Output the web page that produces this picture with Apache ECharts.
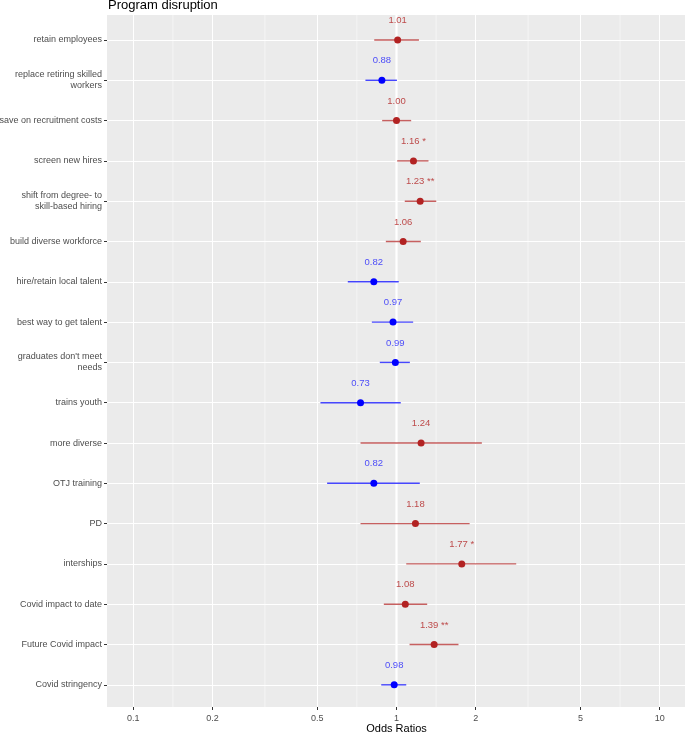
<!DOCTYPE html>
<html>
<head>
<meta charset="utf-8">
<script src="https://cdn.jsdelivr.net/npm/echarts@6/dist/echarts.min.js"></script>
<style>html,body{margin:0;padding:0;background:#fff;}#c{width:685px;height:734px;}</style>
</head>
<body>
<div id="c"></div>
<script>
const categories = ["retain employees","replace retiring skilled\nworkers","save on recruitment costs","screen new hires","shift from degree- to\nskill-based hiring","build diverse workforce","hire/retain local talent","best way to get talent","graduates don't meet\nneeds","trains youth","more diverse","OTJ training","PD","interships","Covid impact to date","Future Covid impact","Covid stringency"];
const oddsRatio = [1.01,0.88,1.00,1.16,1.23,1.06,0.82,0.97,0.99,0.73,1.24,0.82,1.18,1.77,1.08,1.39,0.98];
const ciLow = [0.823,0.762,0.882,1.006,1.075,0.911,0.653,0.806,0.864,0.514,0.730,0.545,0.730,1.089,0.895,1.121,0.875];
const ciHigh = [1.217,1.004,1.137,1.323,1.416,1.237,1.020,1.157,1.124,1.038,2.110,1.226,1.896,2.850,1.308,1.720,1.089];
const stars = ["","","","*","**","","","","","","","","","*","","**",""];
const xTicks = [0.1,0.2,0.5,1,2,5,10];
const xMinor = [0.1414,0.3162,0.7071,1.4142,3.1623,7.0711];
const refLine = 1;

const RED = '#B22222', BLUE = '#0000FF';
const FONT = '"Liberation Sans", Arial, sans-serif';
const colorOf = v => v >= 1 ? RED : BLUE;
const labelColorOf = v => v >= 1 ? 'rgba(178,34,34,0.8)' : 'rgba(0,0,255,0.7)';
const idx = categories.map((_, i) => i);

const chart = echarts.init(document.getElementById('c'), null, {renderer: 'canvas'});
chart.setOption({
  animation: false,
  textStyle: {fontFamily: FONT},
  title: {
    text: 'Program disruption', left: 108, top: -1, padding: 0,
    textStyle: {fontFamily: FONT, fontSize: 13, fontWeight: 'normal', color: '#000'}
  },
  grid: {
    left: 107, top: 15, width: 579, height: 692,
    show: true, backgroundColor: '#EBEBEB', borderWidth: 0,
    containLabel: false, outerBoundsMode: 'none'
  },
  xAxis: {
    type: 'log', logBase: 10,
    min: Math.pow(10, -1.1), max: Math.pow(10, 1.1),
    name: 'Odds Ratios', nameLocation: 'middle', nameGap: 16, nameMoveOverlap: false,
    nameTextStyle: {fontFamily: FONT, fontSize: 11, color: '#000'},
    axisLine: {show: false, onZero: false},
    axisTick: {show: true, length: 3, lineStyle: {color: '#333', width: 1}, customValues: xTicks},
    axisLabel: {color: '#4D4D4D', fontSize: 9, margin: 7, customValues: xTicks,
      formatter: v => String(+v.toPrecision(3))},
    splitLine: {show: true, lineStyle: {color: '#fff', width: 1}},
    minorSplitLine: {show: false}
  },
  yAxis: {
    type: 'value', inverse: true, min: -0.62, max: 16.55,
    axisLine: {show: false, onZero: false},
    axisTick: {show: true, length: 3, lineStyle: {color: '#333', width: 1}, customValues: idx},
    axisLabel: {color: '#4D4D4D', fontSize: 9, margin: 5, customValues: idx, lineHeight: 11,
      formatter: v => categories[Math.round(v)] || ''},
    splitLine: {show: true, lineStyle: {color: '#fff', width: 1}}
  },
  series: [
    {
      type: 'custom', z: 1, silent: true,
      encode: {x: 0},
      data: xMinor.map(v => [v, 0.5]).concat([[refLine, 2.2]]),
      renderItem: (params, api) => {
        const cs = params.coordSys;
        const x = api.coord([api.value(0), 0])[0];
        return {type: 'line', shape: {x1: x, y1: cs.y, x2: x, y2: cs.y + cs.height},
          style: {stroke: '#fff', lineWidth: api.value(1)}};
      }
    },
    {
      type: 'custom', z: 3, silent: true,
      encode: {x: [0, 1], y: 2},
      data: idx.map(i => ({value: [ciLow[i], ciHigh[i], i], itemStyle: {color: colorOf(oddsRatio[i])}})),
      renderItem: (params, api) => {
        const a = api.coord([api.value(0), api.value(2)]);
        const b = api.coord([api.value(1), api.value(2)]);
        return {type: 'line', shape: {x1: a[0], y1: a[1], x2: b[0], y2: b[1]},
          style: {stroke: api.visual('color'), lineWidth: 1.4, opacity: 0.72}};
      }
    },
    {
      type: 'scatter', z: 4, symbol: 'circle', symbolSize: 7, silent: true,
      data: idx.map(i => ({
        value: [oddsRatio[i], i],
        itemStyle: {color: colorOf(oddsRatio[i]), opacity: 1},
        label: {color: labelColorOf(oddsRatio[i])}
      })),
      label: {
        show: true, position: 'top', distance: 11, fontSize: 9.5, fontFamily: FONT,
        formatter: p => oddsRatio[p.dataIndex].toFixed(2) + (stars[p.dataIndex] ? ' ' + stars[p.dataIndex] : '')
      }
    }
  ]
});
</script>
</body>
</html>
